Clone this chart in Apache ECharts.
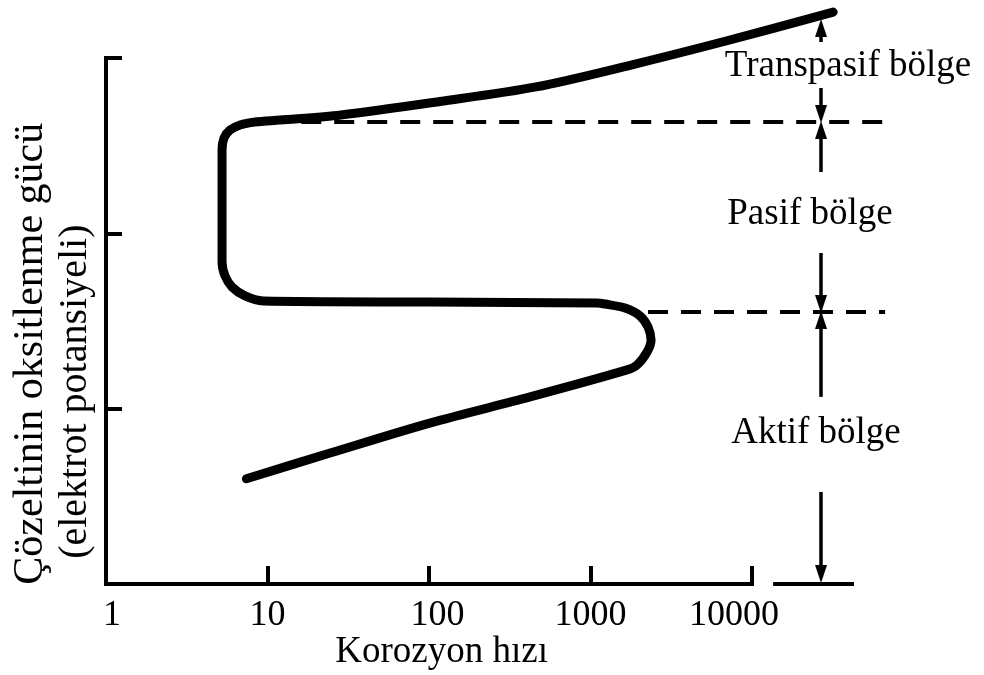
<!DOCTYPE html>
<html>
<head>
<meta charset="utf-8">
<script src="https://cdn.jsdelivr.net/npm/echarts@6.0.0/dist/echarts.min.js"></script>
<style>
html,body{margin:0;padding:0;background:#fff;}
#chart{width:984px;height:675px;}
</style>
</head>
<body>
<div id="chart"></div>
<script>
// ---- data ----
const xTickValues = [1, 10, 100, 1000, 10000];
const xTickLabels = ['1', '10', '100', '1000', '10000'];
const yTickValues = [1, 2, 3];

// polarization curve: corrosion rate (log) vs potential (arbitrary units)
const curveRate = [7.4, 24.4, 101, 422, 1683, 1941, 2239, 2371, 2270, 2027, 1636, 1230, 1097, 101, 9.4, 7.26, 6.03, 5.46, 5.23, 5.23, 5.38, 5.86, 6.76, 8.37, 11.95, 28.5, 117, 460, 1782, 6900, 31800];
const curvePotential = [0.60, 0.747, 0.918, 1.067, 1.221, 1.249, 1.323, 1.392, 1.466, 1.529, 1.574, 1.597, 1.603, 1.608, 1.614, 1.643, 1.694, 1.757, 1.837, 2.475, 2.544, 2.589, 2.618, 2.635, 2.646, 2.675, 2.752, 2.835, 2.960, 3.097, 3.262];

// axis lines
const xAxisLineRate = [1, 10000];
const axisExtRate = [13900, 41600];     // detached piece of the x axis
const yAxisLinePotential = [0, 3];

// dashed region borders
const upperBorderRate = [10.1, 66700];
const upperBorderPotential = 2.635;
const lowerBorderRate = [2270, 66700];
const lowerBorderPotential = 1.551;

// region arrows (vertical, at a fixed rate)
const arrowRate = 26750;
const arrowStart = [3.091, 2.829, 2.350, 1.888, 1.067, 0.525];
const arrowEnd   = [3.171, 2.681, 2.589, 1.597, 1.506, 0.057];

// region labels
const regionNames = ['Transpasif bölge', 'Pasif bölge', 'Aktif bölge'];
const regionRate = [39290, 22860, 24900];
const regionPotential = [2.95, 2.11, 0.86];

// ---- chart ----
const FONT = "'Liberation Serif', 'Times New Roman', serif";
const chart = echarts.init(document.getElementById('chart'), null, {renderer: 'canvas'});

function xLabel(v) {
  let i = xTickValues.indexOf(v);
  if (i < 0) i = Math.round(Math.log10(v));
  return '{t' + i + '|' + xTickLabels[i] + '}';
}

const blackLine = {color: '#000', width: 4, cap: 'square'};

const option = {
  animation: false,
  backgroundColor: '#fff',
  grid: {left: 106, right: 94.7, top: 5.4, bottom: 91, containLabel: false, outerBoundsMode: 'none'},
  xAxis: {
    type: 'log',
    logBase: 10,
    min: 1,
    max: 70795,
    name: 'Korozyon hızı',
    nameLocation: 'middle',
    nameGap: 50,
    nameMoveOverlap: false,
    nameTextStyle: {fontFamily: FONT, fontSize: 37, color: '#000', padding: [0, 112, 0, 0]},
    axisLine: {show: false},
    axisTick: {show: true, inside: true, length: 18, customValues: xTickValues, lineStyle: {color: '#000', width: 4}},
    minorTick: {show: false},
    splitLine: {show: false},
    axisLabel: {
      show: true, margin: 14, fontFamily: FONT, fontSize: 36, color: '#000',
      customValues: xTickValues,
      formatter: xLabel,
      rich: {
        t0: {fontFamily: FONT, fontSize: 36, color: '#000', padding: [0, 0, 0, 12]},
        t1: {fontFamily: FONT, fontSize: 36, color: '#000'},
        t2: {fontFamily: FONT, fontSize: 36, color: '#000', padding: [0, 0, 0, 17]},
        t3: {fontFamily: FONT, fontSize: 36, color: '#000'},
        t4: {fontFamily: FONT, fontSize: 36, color: '#000', padding: [0, 36, 0, 0]}
      }
    }
  },
  yAxis: {
    type: 'value',
    min: 0,
    max: 3.3,
    name: '{a|Çözeltinin oksitlenme gücü}\n{b|(elektrot potansiyeli)}',
    nameLocation: 'middle',
    nameRotate: 90,
    nameGap: 8,
    nameMoveOverlap: false,
    nameTextStyle: {
      fontFamily: FONT, fontSize: 42, color: '#000',
      rich: {
        a: {fontFamily: FONT, fontSize: 42, color: '#000', lineHeight: 45, padding: [0, 118, 0, 0]},
        b: {fontFamily: FONT, fontSize: 40, color: '#000', lineHeight: 45, padding: [0, 194, 0, 0]}
      }
    },
    axisLine: {show: false},
    axisTick: {show: true, inside: true, length: 16, customValues: yTickValues, lineStyle: {color: '#000', width: 4}},
    axisLabel: {show: false},
    splitLine: {show: false}
  },
  series: [
    {
      name: 'xAxisLine', type: 'line', symbol: 'none', clip: false,
      data: xAxisLineRate.map(r => [r, 0]), lineStyle: blackLine
    },
    {
      name: 'xAxisExt', type: 'line', symbol: 'none', clip: false,
      data: axisExtRate.map(r => [r, 0]), lineStyle: blackLine
    },
    {
      name: 'yAxisLine', type: 'line', symbol: 'none', clip: false,
      data: yAxisLinePotential.map(p => [1, p]), lineStyle: blackLine
    },
    {
      name: 'curve',
      type: 'line',
      data: curveRate.map((r, i) => [r, curvePotential[i]]),
      smooth: 0.3,
      showSymbol: false,
      symbol: 'none',
      clip: false,
      lineStyle: {color: '#000', width: 9, cap: 'round', join: 'round'},
      z: 5
    },
    {
      name: 'upperBorder',
      type: 'line',
      data: upperBorderRate.map(r => [r, upperBorderPotential]),
      symbol: 'none',
      clip: false,
      lineStyle: {color: '#000', width: 4, type: [20, 13]}
    },
    {
      name: 'lowerBorder',
      type: 'line',
      data: lowerBorderRate.map(r => [r, lowerBorderPotential]),
      symbol: 'none',
      clip: false,
      lineStyle: {color: '#000', width: 4, type: [20, 13]}
    },
    {
      name: 'arrows',
      type: 'lines',
      coordinateSystem: 'cartesian2d',
      clip: false,
      symbol: ['none', 'triangle'],
      symbolSize: [[1, 1], [12, 18]],
      lineStyle: {color: '#000', width: 3.5, opacity: 1, curveness: 0},
      itemStyle: {color: '#000'},
      data: arrowStart.map((s, i) => ({coords: [[arrowRate, s], [arrowRate, arrowEnd[i]]]}))
    },
    {
      name: 'regions',
      type: 'scatter',
      clip: false,
      symbolSize: 0,
      itemStyle: {opacity: 1},
      data: regionRate.map((r, i) => [r, regionPotential[i], regionNames[i]]),
      label: {
        show: true,
        position: 'inside',
        formatter: p => p.value[2],
        fontFamily: FONT,
        fontSize: 37,
        color: '#000',
        opacity: 1
      }
    }
  ]
};
chart.setOption(option);
</script>
</body>
</html>
